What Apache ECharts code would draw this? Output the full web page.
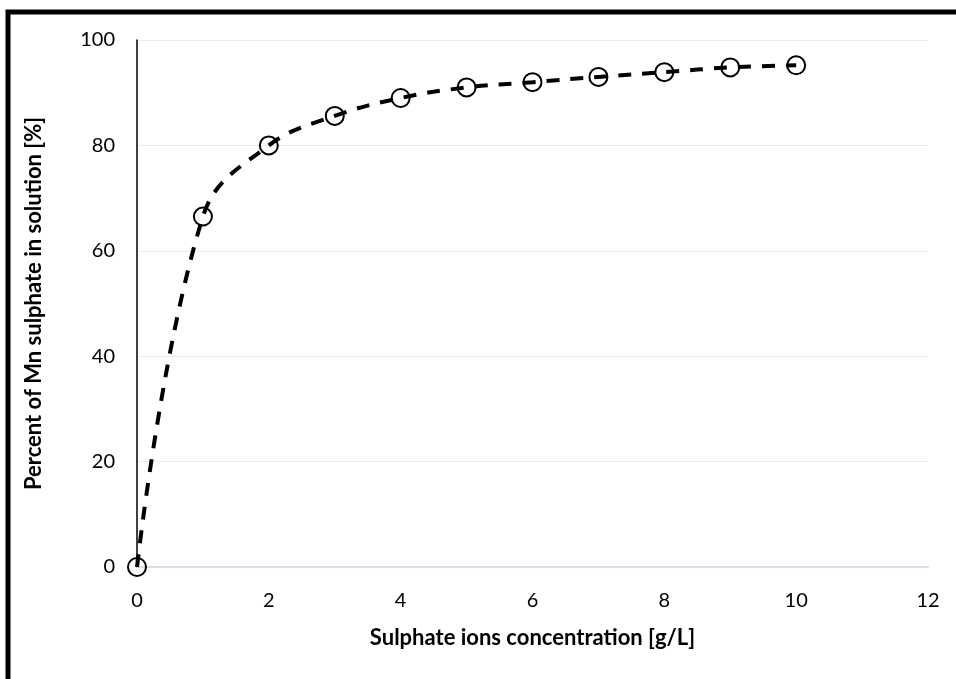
<!DOCTYPE html>
<html><head><meta charset="utf-8">
<script src="https://cdn.jsdelivr.net/npm/echarts@6/dist/echarts.min.js"></script>
<style>html,body{margin:0;padding:0;background:#fff}#c{width:956px;height:679px}</style>
</head><body><div id="c"></div>
<script>
const xValues = [0, 1, 2, 3, 4, 5, 6, 7, 8, 9, 10];
const yValues = [0, 66.5, 80, 85.6, 89, 91, 92, 93, 93.9, 94.8, 95.2];
const xTitle = 'Sulphate ions concentration [g/L]';
const yTitle = 'Percent of Mn sulphate in solution [%]';
const font = 'Lato, "Open Sans", sans-serif';

const chart = echarts.init(document.getElementById('c'));
chart.setOption({
  animation: false,
  backgroundColor: '#fff',
  graphic: [{
    type: 'rect', shape: {x: 8, y: 12, width: 1000, height: 800},
    style: {fill: 'none', stroke: '#000', lineWidth: 5}, silent: true
  }],
  grid: {left: 137, right: 28, top: 40, bottom: 112},
  xAxis: {
    type: 'value', min: 0, max: 12, interval: 2,
    name: xTitle, nameLocation: 'middle', nameGap: 60,
    nameTextStyle: {fontFamily: font, fontSize: 22, fontWeight: 'bold', color: '#000'},
    axisLine: {show: true, onZero: false, lineStyle: {color: '#d6dfee', width: 2}},
    axisTick: {show: false},
    axisLabel: {fontFamily: font, fontSize: 20, color: '#000', margin: 24},
    splitLine: {show: false}
  },
  yAxis: {
    type: 'value', min: 0, max: 100, interval: 20,
    name: yTitle, nameLocation: 'middle', nameGap: 92,
    nameTextStyle: {fontFamily: font, fontSize: 22, fontWeight: 'bold', color: '#000'},
    axisLine: {show: true, lineStyle: {color: '#000', width: 1.5}},
    axisTick: {show: false},
    axisLabel: {fontFamily: font, fontSize: 20, color: '#000', margin: 22},
    splitLine: {show: true, lineStyle: {color: '#ecece2', width: 1}}
  },
  series: [{
    type: 'line',
    data: xValues.map((x, i) => [x, yValues[i]]),
    smooth: 0.4,
    clip: false,
    symbol: 'circle', symbolSize: 18,
    lineStyle: {color: '#000', width: 4, type: [13, 11]},
    itemStyle: {color: 'rgba(0,0,0,0)', borderColor: '#000', borderWidth: 2}
  }]
});
</script></body></html>
